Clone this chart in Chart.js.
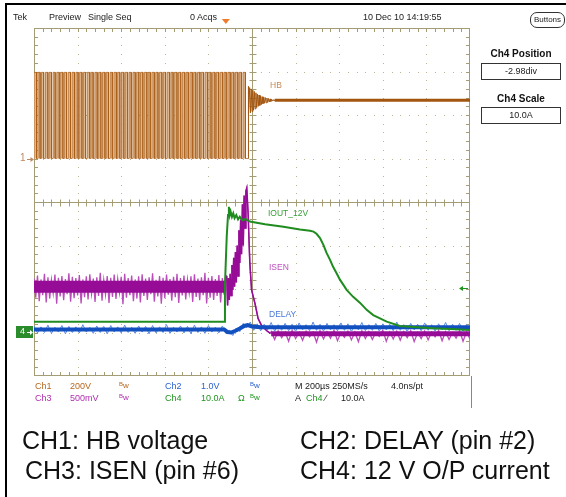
<!DOCTYPE html>
<html lang="en">
<head>
<meta charset="UTF-8">
<title>Tek capture</title>
<script src="https://cdn.jsdelivr.net/npm/chart.js"></script>
<style>
  body { margin: 0; background: #fff; }
  .wrap { position: relative; width: 566px; height: 497px; overflow: hidden; background: #fff;
          font-family: "Liberation Sans", Arial, sans-serif; }
  canvas { position: absolute; left: 0; top: 0; }
  .t { position: absolute; white-space: nowrap; line-height: 1; }
  .s9 { font-size: 9px; color: #222; }
  .lbl { font-size: 8.5px; }
  .cap { font-size: 25px; color: #111; }
  .c1 { color: #b8671e; } .c2 { color: #2a62d0; } .c3 { color: #b02eb0; } .c4 { color: #1f941f; }
  .bw small { font-size: 6px; position: relative; top: -2px; }
  .bw { font-size: 8px; }
  .box { position: absolute; border: 1px solid #333; text-align: center; font-size: 9px; color: #222; }
  .bold { font-weight: bold; font-size: 10px; color: #111; }
  .line { position: absolute; background: #000; }
</style>
</head>
<body>
<div class="wrap">
  <canvas id="scope" width="566" height="497"></canvas>

  <div class="line" style="left:5px;top:3px;width:561px;height:2px"></div>
  <div class="line" style="left:5px;top:3px;width:2px;height:494px"></div>
  <div class="line" style="left:471px;top:376px;width:1px;height:32px;background:#888"></div>

  <div class="t s9" style="left:13px;top:12.6px">Tek</div>
  <div class="t s9" style="left:49px;top:12.6px">Preview</div>
  <div class="t s9" style="left:88px;top:12.6px">Single Seq</div>
  <div class="t s9" style="left:190px;top:12.6px">0 Acqs</div>
  <div class="t s9" style="left:363px;top:12.6px">10 Dec 10 14:19:55</div>
  <div class="box" style="left:530px;top:12px;width:33px;height:14px;line-height:14px;border-radius:7px;font-size:8px">Buttons</div>

  <div class="t bold" style="left:471px;width:100px;text-align:center;top:49px">Ch4 Position</div>
  <div class="box" style="left:481px;top:63px;width:78px;height:15px;line-height:15px">-2.98div</div>
  <div class="t bold" style="left:471px;width:100px;text-align:center;top:94px">Ch4 Scale</div>
  <div class="box" style="left:481px;top:107px;width:78px;height:15px;line-height:15px">10.0A</div>

  <div class="t lbl" style="left:270px;top:81px;color:#c58a55">HB</div>
  <div class="t lbl" style="left:268px;top:209px;color:#34a034">IOUT_12V</div>
  <div class="t lbl" style="left:269px;top:263px;color:#c04ec0">ISEN</div>
  <div class="t lbl" style="left:269px;top:310px;color:#4a78d8">DELAY</div>

  <div class="t" style="left:20px;top:153px;font-size:10px;color:#c08860">1</div>
  <div class="t" style="left:20px;top:327px;font-size:9px;color:#fff">4</div>

  <div class="t s9 c1" style="left:35px;top:381.6px">Ch1</div>
  <div class="t s9 c1" style="left:70px;top:381.6px">200V</div>
  <div class="t bw c1" style="left:119px;top:382px"><small>B</small>w</div>
  <div class="t s9 c2" style="left:165px;top:381.6px">Ch2</div>
  <div class="t s9 c2" style="left:201px;top:381.6px">1.0V</div>
  <div class="t bw c2" style="left:250px;top:382px"><small>B</small>w</div>
  <div class="t s9" style="left:295px;top:381.6px">M 200µs 250MS/s</div>
  <div class="t s9" style="left:391px;top:381.6px">4.0ns/pt</div>

  <div class="t s9 c3" style="left:35px;top:393.6px">Ch3</div>
  <div class="t s9 c3" style="left:70px;top:393.6px">500mV</div>
  <div class="t bw c3" style="left:119px;top:394px"><small>B</small>w</div>
  <div class="t s9 c4" style="left:165px;top:393.6px">Ch4</div>
  <div class="t s9 c4" style="left:201px;top:393.6px">10.0A</div>
  <div class="t s9 c4" style="left:238px;top:393.6px">Ω</div>
  <div class="t bw c4" style="left:250px;top:394px"><small>B</small>w</div>
  <div class="t s9" style="left:295px;top:393.6px">A</div>
  <div class="t s9 c4" style="left:306px;top:393.6px">Ch4</div>
  <div class="t s9" style="left:325px;top:393.6px">∕</div>
  <div class="t s9" style="left:341px;top:393.6px">10.0A</div>

  <div class="t cap" style="left:22px;top:427.8px">CH1: HB voltage</div>
  <div class="t cap" style="left:300px;top:427.8px">CH2: DELAY (pin #2)</div>
  <div class="t cap" style="left:25px;top:457.8px">CH3: ISEN (pin #6)</div>
  <div class="t cap" style="left:300px;top:457.8px">CH4: 12 V O/P current</div>
</div>

<script>
// all values in screen divisions: x 0..10 (200 us/div), y 0..8
const hbHigh = 6.98;
const hbLow = 5.0;
const hbSettled = 6.34;
const hbRise = [0.000, 0.088, 0.171, 0.262, 0.347, 0.437, 0.522, 0.611, 0.695, 0.786, 0.872, 0.960, 1.046, 1.133,
  1.221, 1.305, 1.396, 1.482, 1.570, 1.655, 1.744, 1.832, 1.918, 2.007, 2.092, 2.181, 2.268, 2.354, 2.443, 2.530,
  2.617, 2.703, 2.792, 2.877, 2.966, 3.053, 3.140, 3.226, 3.314, 3.401, 3.488, 3.575, 3.662, 3.749, 3.836, 3.923,
  4.010, 4.097, 4.183, 4.271, 4.358, 4.445, 4.532, 4.619, 4.706, 4.793];
const hbFall = [0.058, 0.141, 0.222, 0.318, 0.400, 0.487, 0.580, 0.664, 0.748, 0.838, 0.928, 1.012, 1.101, 1.183,
  1.278, 1.357, 1.451, 1.535, 1.628, 1.708, 1.797, 1.890, 1.970, 2.061, 2.147, 2.232, 2.323, 2.406, 2.497, 2.588,
  2.668, 2.760, 2.845, 2.934, 3.018, 3.110, 3.192, 3.281, 3.366, 3.458, 3.540, 3.632, 3.713, 3.805, 3.889, 3.980,
  4.062, 4.152, 4.237, 4.327, 4.410, 4.502, 4.585, 4.676, 4.758, 4.850];
const hbRingStart = 4.91, hbRingStep = 0.018;
const hbRing = [6.66, 6.02, 6.63, 6.05, 6.60, 6.08, 6.57, 6.11, 6.54, 6.14, 6.51, 6.17, 6.48, 6.20, 6.46, 6.22,
  6.44, 6.24, 6.42, 6.26, 6.41, 6.27, 6.40, 6.28, 6.39, 6.29, 6.38, 6.30, 6.37, 6.31, 6.36, 6.32, 6.35, 6.33, 6.34];

const isenPreStep = 0.04;
const isenPre = [2.24, 1.80, 2.31, 1.72, 2.22, 1.86, 2.35, 1.69, 2.27, 1.78, 2.21, 1.90, 2.33, 1.66, 2.26, 1.83,
  2.30, 1.74, 2.23, 1.88, 2.36, 1.71, 2.28, 1.79, 2.25, 1.85, 2.32, 1.67, 2.22, 1.81, 2.29, 1.76, 2.34, 1.89, 2.24,
  1.70, 2.27, 1.84, 2.37, 1.73, 2.21, 1.87, 2.30, 1.68, 2.26, 1.82, 2.33, 1.77, 2.23, 1.91, 2.28, 1.65, 2.35, 1.80,
  2.25, 1.86, 2.31, 1.72, 2.22, 1.78, 2.29, 1.69, 2.34, 1.84, 2.24, 1.75, 2.27, 1.88, 2.36, 1.71, 2.21, 1.83, 2.30,
  1.66, 2.26, 1.79, 2.33, 1.87, 2.23, 1.73, 2.28, 1.81, 2.35, 1.68, 2.25, 1.85, 2.31, 1.76, 2.22, 1.90, 2.29, 1.70,
  2.34, 1.82, 2.24, 1.74, 2.27, 1.86, 2.37, 1.67, 2.26, 1.80, 2.30, 1.75, 2.23, 1.84, 2.32, 1.69, 2.25, 1.87, 2.31];
const isenRiseX = [4.42, 4.44, 4.46, 4.48, 4.50, 4.52, 4.54, 4.56, 4.58, 4.60, 4.62, 4.64, 4.66, 4.68, 4.70, 4.72,
  4.74, 4.76, 4.78, 4.80, 4.82, 4.84, 4.86, 4.88];
const isenRiseY = [2.30, 1.62, 2.25, 1.75, 2.35, 1.85, 2.55, 1.98, 2.72, 2.05, 2.85, 2.15, 3.00, 2.30, 3.35, 2.60,
  3.60, 2.80, 3.95, 3.00, 4.15, 3.40, 4.25, 4.32];
const isenFallX = [4.91, 4.95, 4.99, 5.07, 5.14, 5.22, 5.34, 5.42];
const isenFallY = [3.75, 2.60, 1.98, 1.66, 1.32, 1.16, 1.04, 0.98];
const isenPostStart = 5.44, isenPostStep = 0.08;
const isenPost = [1.02, 0.84, 1.04, 0.88, 1.01, 0.80, 1.05, 0.86, 1.00, 0.82, 1.03, 0.90, 1.01, 0.78, 1.04, 0.85,
  1.02, 0.87, 1.05, 0.81, 1.00, 0.89, 1.03, 0.83, 1.01, 0.79, 1.04, 0.86, 1.02, 0.84, 1.00, 0.91, 1.05, 0.80, 1.01,
  0.85, 1.03, 0.82, 1.02, 0.88, 1.04, 0.79, 1.00, 0.86, 1.03, 0.83, 1.01, 0.90, 1.05, 0.81, 1.02, 0.84, 1.00, 0.87,
  1.04, 0.80, 1.01, 0.85];
const isenCorePre = 2.05, isenCorePost = 0.97;

const delayStep = 0.08;
const delayTrace = [1.15, 0.99, 1.13, 1.00, 1.17, 0.98, 1.12, 1.01, 1.16, 0.97, 1.14, 1.00, 1.13, 0.99, 1.18, 1.01,
  1.12, 0.98, 1.15, 1.00, 1.14, 0.97, 1.16, 1.01, 1.13, 0.99, 1.17, 1.00, 1.12, 0.98, 1.15, 1.01, 1.14, 0.97, 1.16,
  0.99, 1.13, 1.00, 1.18, 0.98, 1.12, 1.01, 1.15, 0.99, 1.14, 0.97, 1.17, 1.00, 1.13, 0.98, 1.16, 1.01, 1.12, 0.99,
  1.15, 0.98, 1.05, 0.93, 1.10, 1.02, 1.21, 1.11, 1.24, 1.05, 1.20, 1.04, 1.19, 1.06, 1.23, 1.03, 1.18, 1.05, 1.21,
  1.04, 1.19, 1.02, 1.22, 1.06, 1.18, 1.04, 1.24, 1.05, 1.19, 1.03, 1.21, 1.06, 1.18, 1.04, 1.22, 1.05, 1.20, 1.02,
  1.19, 1.06, 1.23, 1.04, 1.18, 1.05, 1.21, 1.03, 1.20, 1.06, 1.19, 1.04, 1.24, 1.05, 1.18, 1.02, 1.21, 1.06, 1.19,
  1.04, 1.22, 1.05, 1.18, 1.03, 1.20, 1.06, 1.23, 1.04, 1.19, 1.05, 1.21, 1.02, 1.18, 1.06];
const delayCoreX = [0, 4.36, 4.44, 4.52, 4.62, 4.72, 4.82, 4.90, 5.00, 5.20, 10];
const delayCoreY = [1.07, 1.07, 1.01, 1.00, 1.04, 1.09, 1.15, 1.17, 1.14, 1.12, 1.12];

const ioutX = [0, 4.37, 4.38, 4.42, 4.45, 4.47, 4.49, 4.51, 4.54, 4.57, 4.60, 4.64, 4.68, 4.72, 4.78, 4.85, 4.95,
  5.30, 5.72, 6.10, 6.33, 6.41, 6.48, 6.56, 6.64, 6.71, 6.79, 6.86, 6.94, 7.02, 7.10, 7.17, 7.32, 7.48, 7.63, 7.78,
  8.09, 8.39, 8.80, 9.15, 9.55, 10];
const ioutY = [1.25, 1.25, 2.10, 3.20, 3.70, 3.89, 3.70, 3.78, 3.66, 3.74, 3.63, 3.70, 3.60, 3.66, 3.58, 3.61, 3.55,
  3.49, 3.43, 3.37, 3.34, 3.32, 3.27, 3.17, 3.01, 2.83, 2.67, 2.51, 2.36, 2.21, 2.09, 1.98, 1.82, 1.68, 1.52, 1.40,
  1.25, 1.15, 1.12, 1.10, 1.08, 1.06];

const ch4Ground = 1.02;
const ch4Trigger = 2.02;
const triggerPos = 4.40;

const seq = (start, step, vals) => vals.map((v, i) => ({ x: start + i * step, y: v }));
const pairs = (xs, ys) => xs.map((v, i) => ({ x: v, y: ys[i] }));

const hbSquare = [{ x: 0, y: hbLow }];
hbRise.forEach((r, i) => {
  hbSquare.push({ x: r, y: hbLow }, { x: r, y: hbHigh }, { x: hbFall[i], y: hbHigh }, { x: hbFall[i], y: hbLow });
});
hbSquare.push({ x: hbRingStart, y: hbLow });
const hbRingPts = [{ x: hbRingStart, y: hbLow }].concat(seq(hbRingStart, hbRingStep, hbRing));
const hbTail = [{ x: hbRingStart + (hbRing.length - 1) * hbRingStep, y: hbSettled }, { x: 10, y: hbSettled }];

const isenTrace = seq(0, isenPreStep, isenPre)
  .concat(pairs(isenRiseX, isenRiseY), pairs(isenFallX, isenFallY), seq(isenPostStart, isenPostStep, isenPost));
const isenEdge = pairs(isenRiseX, isenRiseY).concat(pairs(isenFallX, isenFallY));

const line = (data, color, width, order, extra) => Object.assign({
  data, borderColor: color, borderWidth: width, pointRadius: 0, tension: 0, fill: false, order
}, extra || {});

const graticule = {
  id: 'graticule',
  beforeDatasetsDraw(chart) {
    const { ctx, chartArea: a, scales: { x, y } } = chart;
    const cx = Math.round(x.getPixelForValue(5)) + 0.5;
    const cy = Math.round(y.getPixelForValue(4)) + 0.5;
    ctx.save();
    ctx.fillStyle = '#bcb592';
    for (let i = 1; i < 10; i++) {
      if (i === 5) continue;
      const px = Math.round(x.getPixelForValue(i));
      for (let k = 1; k < 40; k++) ctx.fillRect(px, Math.round(y.getPixelForValue(k / 5)), 1, 1);
    }
    for (let j = 1; j < 8; j++) {
      if (j === 4) continue;
      const py = Math.round(y.getPixelForValue(j));
      for (let k = 1; k < 50; k++) ctx.fillRect(Math.round(x.getPixelForValue(k / 5)), py, 1, 1);
    }
    ctx.strokeStyle = '#a39c74';
    ctx.lineWidth = 1;
    ctx.beginPath();
    ctx.moveTo(cx, a.top); ctx.lineTo(cx, a.bottom);
    ctx.moveTo(a.left, cy); ctx.lineTo(a.right, cy);
    for (let k = 1; k < 50; k++) {
      const px = Math.round(x.getPixelForValue(k / 5)) + 0.5;
      ctx.moveTo(px, cy - 3); ctx.lineTo(px, cy + 4);
      ctx.moveTo(px, a.top); ctx.lineTo(px, a.top + 4);
      ctx.moveTo(px, a.bottom); ctx.lineTo(px, a.bottom - 4);
    }
    for (let k = 1; k < 40; k++) {
      const py = Math.round(y.getPixelForValue(k / 5)) + 0.5;
      ctx.moveTo(cx - 3, py); ctx.lineTo(cx + 4, py);
      ctx.moveTo(a.left, py); ctx.lineTo(a.left + 4, py);
      ctx.moveTo(a.right, py); ctx.lineTo(a.right - 4, py);
    }
    ctx.stroke();
    ctx.strokeRect(a.left + 0.5, a.top + 0.5, a.right - a.left - 1, a.bottom - a.top - 1);
    ctx.restore();
  },
  afterDatasetsDraw(chart) {
    const { ctx, chartArea: a, scales: { x, y } } = chart;
    ctx.save();
    // ch1 ground arrow
    const y1 = Math.round(y.getPixelForValue(hbLow)) + 0.5;
    ctx.strokeStyle = '#c08860'; ctx.fillStyle = '#c08860'; ctx.lineWidth = 1;
    ctx.beginPath(); ctx.moveTo(27, y1); ctx.lineTo(32, y1); ctx.stroke();
    ctx.beginPath(); ctx.moveTo(34, y1); ctx.lineTo(30.5, y1 - 2.5); ctx.lineTo(30.5, y1 + 2.5); ctx.fill();
    // ch4 ground marker
    const y4 = Math.round(y.getPixelForValue(ch4Ground));
    ctx.fillStyle = '#2a8c2a';
    ctx.fillRect(16, y4 - 6, 17, 12);
    ctx.strokeStyle = '#fff'; ctx.fillStyle = '#fff';
    ctx.beginPath(); ctx.moveTo(27, y4 + 0.5); ctx.lineTo(31, y4 + 0.5); ctx.stroke();
    ctx.beginPath(); ctx.moveTo(33, y4 + 0.5); ctx.lineTo(30, y4 - 2); ctx.lineTo(30, y4 + 3); ctx.fill();
    // ch4 trigger level
    const yt = Math.round(y.getPixelForValue(ch4Trigger)) + 0.5;
    ctx.strokeStyle = '#1f941f'; ctx.fillStyle = '#1f941f';
    ctx.beginPath(); ctx.moveTo(461, yt); ctx.lineTo(468, yt); ctx.stroke();
    ctx.beginPath(); ctx.moveTo(459, yt); ctx.lineTo(463, yt - 2.5); ctx.lineTo(463, yt + 2.5); ctx.fill();
    // trigger position
    const xt = x.getPixelForValue(triggerPos);
    ctx.fillStyle = '#f07a2c';
    ctx.beginPath(); ctx.moveTo(xt - 4, a.top - 9); ctx.lineTo(xt + 4, a.top - 9); ctx.lineTo(xt, a.top - 4); ctx.fill();
    ctx.restore();
  }
};

new Chart(document.getElementById('scope'), {
  type: 'line',
  data: {
    datasets: [
      line(hbSquare, '#a65a12', 0.7, 10, { fill: { value: hbLow }, backgroundColor: '#e0b68c' }),
      line(hbRingPts, '#a3560f', 1, 9),
      line(hbTail, '#a3560f', 3, 9),
      line(isenTrace, '#b94db9', 1.3, 8),
      line([{ x: 0, y: isenCorePre }, { x: 4.40, y: isenCorePre }], '#960c96', 12, 7),
      line([{ x: isenPostStart, y: isenCorePost }, { x: 10, y: isenCorePost }], '#960c96', 5, 7),
      line(isenEdge, '#960c96', 1.5, 6),
      line(seq(0, delayStep, delayTrace), '#5a88e0', 1, 5),
      line(pairs(delayCoreX, delayCoreY), '#1250c0', 4, 4),
      line(pairs(ioutX, ioutY), '#1f8c1f', 2, 1)
    ]
  },
  options: {
    responsive: false,
    animation: false,
    events: [],
    layout: { padding: { left: 34, right: 96, top: 28, bottom: 121 } },
    scales: {
      x: { type: 'linear', min: 0, max: 10, display: false },
      y: { type: 'linear', min: 0, max: 8, display: false }
    },
    plugins: { legend: { display: false }, tooltip: { enabled: false } }
  },
  plugins: [graticule]
});
</script>
</body>
</html>
